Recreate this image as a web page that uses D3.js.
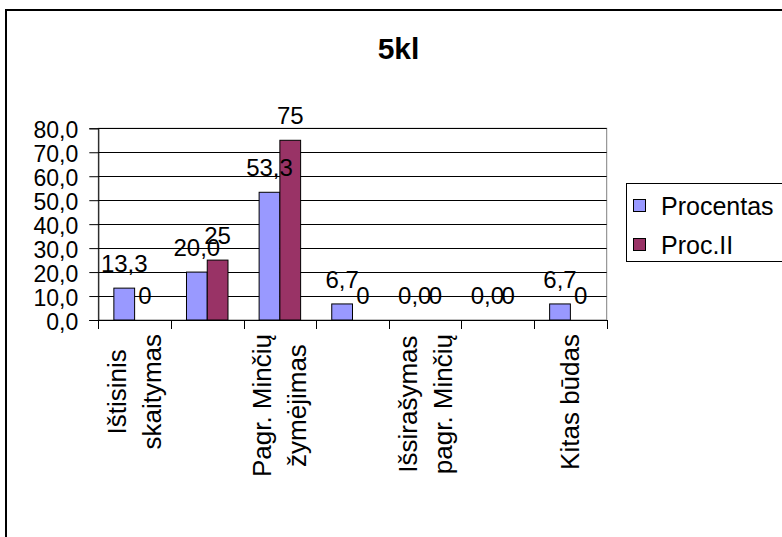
<!DOCTYPE html>
<html>
<head>
<meta charset="utf-8">
<script src="https://cdn.jsdelivr.net/npm/d3@7"></script>
<style>
  html, body { margin: 0; padding: 0; background: #fff; }
  svg { display: block; font-family: "Liberation Sans", Arial, sans-serif; }
</style>
</head>
<body>
<svg id="chart" width="782" height="537"></svg>
<script>
// Category labels ("\n" marks a line break in the rotated label)
const categories = ["Ištisinis\nskaitymas", "", "Pagr. Minčių\nžymėjimas", "", "Išsirašymas\npagr. Minčių", "", "Kitas būdas"];
// Series values
const procentas = [13.3, 20.0, 53.3, 6.7, 0.0, 0.0, 6.7];
const procII = [0, 25, 75, 0, 0, 0, 0];
const seriesNames = ["Procentas", "Proc.II"];
const seriesColors = ["#9999FF", "#993366"];
// Value axis ticks
const yTicks = [0, 10, 20, 30, 40, 50, 60, 70, 80];
const chartTitle = "5kl";

const lt = d3.formatLocale({ decimal: ",", thousands: " ", grouping: [3], currency: ["", ""] });
const fmt1 = lt.format(".1f");
const fmt0 = lt.format("d");

const svg = d3.select("#chart");

// outer chart frame
svg.append("rect")
  .attr("x", 6).attr("y", 10).attr("width", 800).attr("height", 600)
  .attr("fill", "#fff").attr("stroke", "#000").attr("stroke-width", 2);

const plot = { left: 98.3, right: 606.7, top: 128.3, bottom: 320 };

const x = d3.scaleBand().domain(d3.range(categories.length))
  .range([plot.left, plot.right]).paddingInner(0).paddingOuter(0);
const step = x.bandwidth();
// gap width 150%: two bars share the middle of each category
const xs = d3.scaleBand().domain([0, 1])
  .range([step * 0.75 / 3.5, step * 2.75 / 3.5]);
const y = d3.scaleLinear().domain([0, 80]).range([plot.bottom, plot.top]);

// title
svg.append("text")
  .attr("x", 398.5).attr("y", 59)
  .attr("text-anchor", "middle")
  .attr("font-size", 30).attr("font-weight", "bold")
  .text(chartTitle);

// plot area border
svg.append("rect")
  .attr("x", plot.left).attr("y", plot.top)
  .attr("width", plot.right - plot.left).attr("height", plot.bottom - plot.top)
  .attr("fill", "#fff").attr("stroke", "#808080").attr("stroke-width", 1);

// horizontal gridlines
svg.append("g").selectAll("line").data(yTicks.filter(d => d > 0)).join("line")
  .attr("x1", plot.left).attr("x2", plot.right)
  .attr("y1", d => Math.round(y(d)) + 0.5).attr("y2", d => Math.round(y(d)) + 0.5)
  .attr("stroke", "#000").attr("stroke-width", 1);

// bars
const series = [procentas, procII];
const groups = svg.append("g").selectAll("g").data(series).join("g")
  .attr("fill", (d, i) => seriesColors[i]);
groups.each(function (vals, si) {
  d3.select(this).selectAll("rect").data(vals).join("rect")
    .attr("x", (d, i) => x(i) + xs(si))
    .attr("width", xs.bandwidth())
    .attr("y", d => y(d))
    .attr("height", d => y(0) - y(d))
    .attr("stroke", "#000").attr("stroke-width", 1);
});

// value axis
const yAxis = svg.append("g")
  .attr("transform", `translate(${plot.left},0)`)
  .call(d3.axisLeft(y).tickValues(yTicks).tickSize(9).tickPadding(11).tickFormat(fmt1));
yAxis.select(".domain").attr("stroke", "#000");
yAxis.selectAll(".tick line").attr("stroke", "#000");
yAxis.selectAll("text")
  .attr("font-size", 23).attr("font-family", "Liberation Sans, Arial, sans-serif")
  .attr("fill", "#000").attr("dy", "0.4em");

// category axis line
const xAxis = svg.append("g")
  .attr("transform", `translate(0,${plot.bottom})`)
  .call(d3.axisBottom(x).tickSize(0).tickFormat(""));
xAxis.select(".domain").attr("stroke", "#000");
xAxis.selectAll(".tick").remove();
// tick marks on category boundaries
const bounds = d3.range(categories.length).map(i => x(i)).concat([x.range()[1]]);
svg.append("g").selectAll("line").data(bounds).join("line")
  .attr("x1", d => Math.round(d) + 0.5).attr("x2", d => Math.round(d) + 0.5)
  .attr("y1", plot.bottom).attr("y2", plot.bottom + 9)
  .attr("stroke", "#000");

// rotated category labels
const catFont = 26, lineGap = 35, labelTop = plot.bottom + 14;
categories.forEach((c, i) => {
  if (!c) return;
  const lines = c.split("\n");
  const g = svg.append("g")
    .attr("transform", `translate(${x(i) + step / 2},0) rotate(-90)`);
  const texts = g.selectAll("text").data(lines).join("text")
    .attr("font-size", catFont)
    .attr("text-anchor", "middle")
    .attr("y", (d, k) => 9 - (lines.length - 1) * lineGap / 2 + k * lineGap)
    .text(d => d);
  let w = 0;
  texts.each(function () { w = Math.max(w, this.getComputedTextLength()); });
  texts.attr("x", -(labelTop + w / 2));
});

// data labels
const labelFmt = [fmt1, fmt0];
series.forEach((vals, si) => {
  svg.append("g").selectAll("text").data(vals).join("text")
    .attr("x", (d, i) => x(i) + xs(si) + xs.bandwidth() / 2)
    .attr("y", d => y(d) - 16)
    .attr("text-anchor", "middle")
    .attr("font-size", 24)
    .text(d => labelFmt[si](d));
});

// legend
const lg = svg.append("g");
lg.append("rect")
  .attr("x", 626.5).attr("y", 183.5).attr("width", 200).attr("height", 78)
  .attr("fill", "#fff").attr("stroke", "#000");
seriesNames.forEach((n, i) => {
  lg.append("rect")
    .attr("x", 633.5).attr("y", 199.5 + i * 39).attr("width", 12).attr("height", 12)
    .attr("fill", seriesColors[i]).attr("stroke", "#000");
  lg.append("text")
    .attr("x", 661).attr("y", 215 + i * 39)
    .attr("font-size", 25)
    .text(n);
});
</script>
</body>
</html>
